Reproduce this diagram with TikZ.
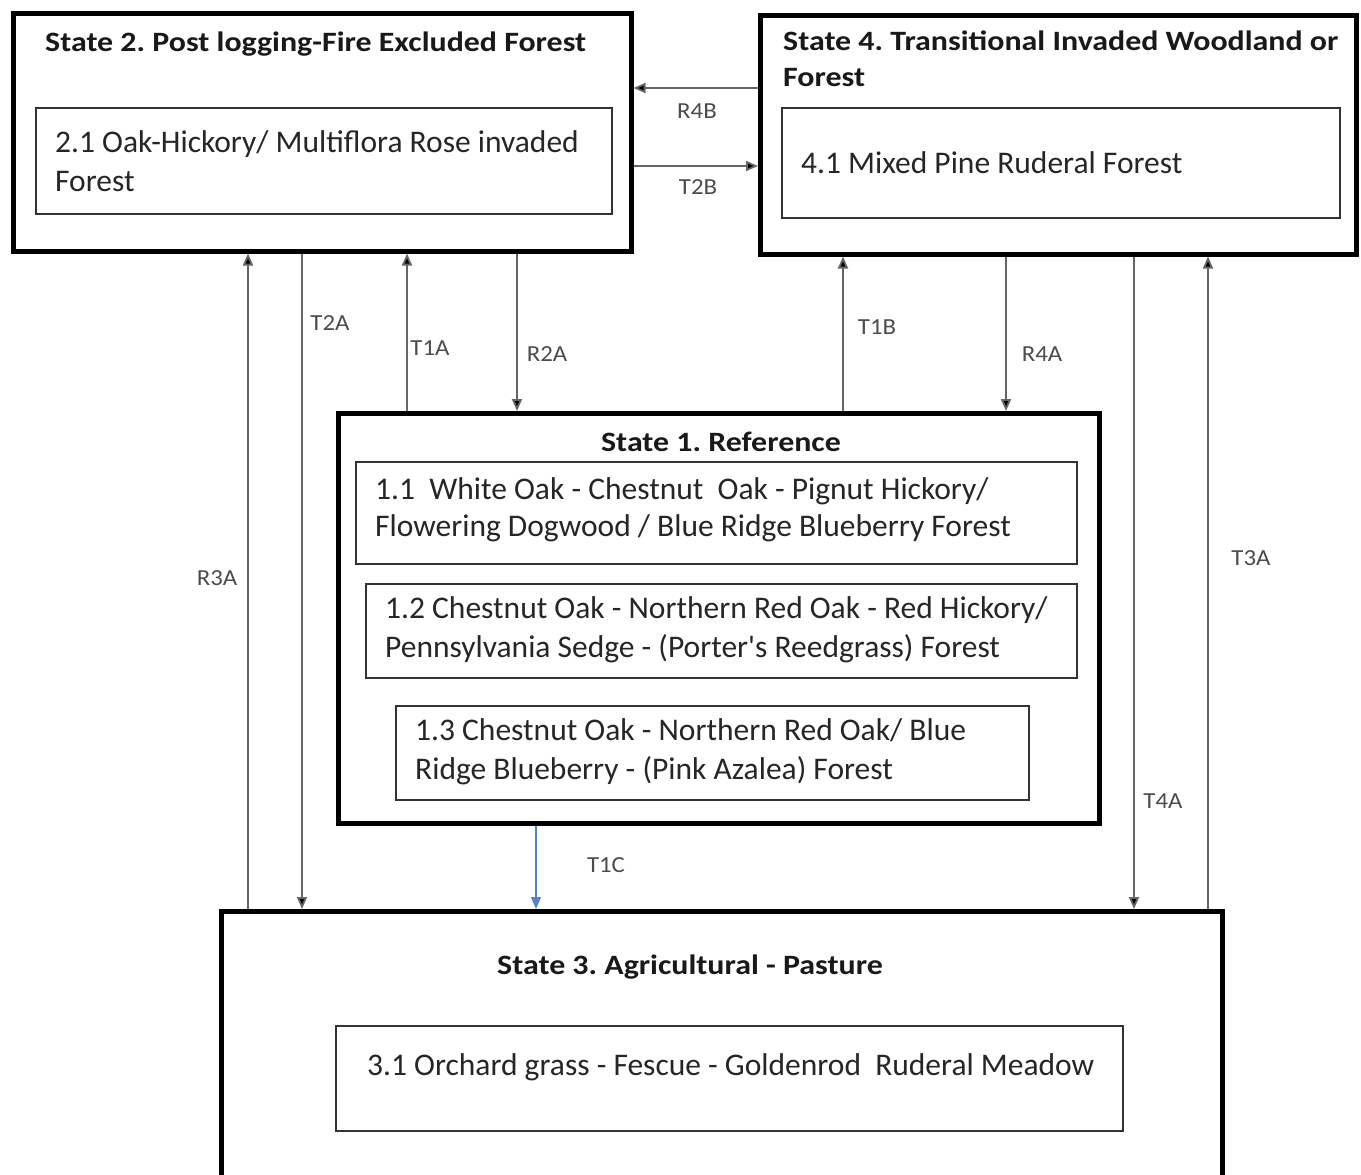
\documentclass[tikz,border=0pt]{standalone}
\usepackage{fontspec}
\setmainfont{Carlito}
\newfontfamily\titlefont[FakeStretch=1.14]{Carlito}
\newfontfamily\lblfont[FakeStretch=1.08]{Carlito}
\usetikzlibrary{arrows.meta}
\frenchspacing
\begin{document}
\begin{tikzpicture}[x=1pt,y=-1pt,
  outerbox/.style={draw=black,line width=4.5pt,anchor=north west,inner sep=0pt},
  innerbox/.style={draw=black!80,line width=2pt,anchor=north west,inner sep=0pt},
  boxtext/.style={anchor=west,inner sep=0pt,align=left,font=\fontsize{31.5}{39}\selectfont,text=black!85},
  titletext/.style={inner sep=0pt,align=left,font=\titlefont\fontsize{28}{36}\selectfont\bfseries,text=black!90},
  lbl/.style={inner sep=0pt,font=\lblfont\fontsize{23}{26}\selectfont,text=black!70},
  arr/.style={draw=black!60,line width=1.8pt,-{Triangle[length=12pt,width=10pt,fill=black]}},
  bluearr/.style={line width=1.5pt,-{Triangle[length=12pt,width=10pt]}}
]
\useasboundingbox (0,0) rectangle (1361,1175);
\clip (0,0) rectangle (1361,1175);
\fill[white] (0,0) rectangle (1361,1175);

% State 2
\node[outerbox,minimum width=618pt,minimum height=238pt] (s2) at (11,11) {};
\node[titletext,anchor=west] (s2t) at (45,44) {State 2. Post logging-Fire Excluded Forest};
\node[innerbox,minimum width=576pt,minimum height=106pt] (b21) at (35,107) {};
\node[boxtext] (t21) at (55,161) {2.1 Oak-Hickory/ Multiflora Rose invaded\\Forest};

% State 4
\node[outerbox,minimum width=596pt,minimum height=239pt] (s4) at (758,13) {};
\node[titletext,anchor=west] (s4t) at (783,59) {State 4. Transitional Invaded Woodland or\\Forest};
\node[innerbox,minimum width=558pt,minimum height=110pt] (b41) at (781,107) {};
\node[boxtext] (t41) at (801,163) {4.1 Mixed Pine Ruderal Forest};

% State 1
\node[outerbox,minimum width=761pt,minimum height=410pt] (s1) at (336,411) {};
\node[titletext,anchor=center] (s1t) at (721,442) {State 1. Reference};
\node[innerbox,minimum width=721pt,minimum height=102pt] (b11) at (355,461) {};
\node[boxtext,font=\fontsize{31.5}{37}\selectfont] (t11) at (375,510) {1.1\ \ White Oak - Chestnut\ \ Oak - Pignut Hickory/\\Flowering Dogwood\ / Blue Ridge Blueberry Forest};
\node[innerbox,minimum width=711pt,minimum height=94pt] (b12) at (365,583) {};
\node[boxtext] (t12) at (385,630) {1.2 Chestnut Oak - Northern Red Oak - Red Hickory/\\Pennsylvania Sedge - (Porter\textquotesingle s Reedgrass) Forest};
\node[innerbox,minimum width=633pt,minimum height=94pt] (b13) at (395,705) {};
\node[boxtext] (t13) at (415,752) {1.3 Chestnut Oak - Northern Red Oak/ Blue\\Ridge Blueberry - (Pink Azalea) Forest};

% State 3
\node[outerbox,minimum width=1001pt,minimum height=320pt] (s3) at (219,909) {};
\node[titletext,anchor=center] (s3t) at (690,967) {State 3. Agricultural - Pasture};
\node[innerbox,minimum width=787pt,minimum height=105pt] (b31) at (335,1025) {};
\node[boxtext] (t31) at (367,1067) {3.1 Orchard grass - Fescue - Goldenrod\ \ Ruderal Meadow};

% Connectors
\draw[arr] (s4.west |- 0,88) -- (s2.east |- 0,88);
\draw[arr] (s2.east |- 0,166) -- (s4.west |- 0,166);
\draw[arr] (s3.north -| 248,0) -- (s2.south -| 248,0);
\draw[arr] (s2.south -| 302,0) -- (s3.north -| 302,0);
\draw[arr] (s1.north -| 407,0) -- (s2.south -| 407,0);
\draw[arr] (s2.south -| 517,0) -- (s1.north -| 517,0);
\draw[arr] (s1.north -| 843,0) -- (s4.south -| 843,0);
\draw[arr] (s4.south -| 1006,0) -- (s1.north -| 1006,0);
\draw[arr] (s4.south -| 1134,0) -- (s3.north -| 1134,0);
\draw[arr] (s3.north -| 1208,0) -- (s4.south -| 1208,0);
\draw[bluearr,draw=cyan!40!blue!70!white,fill=cyan!40!blue!70!white] (s1.south -| 536,0) -- (s3.north -| 536,0);

% Labels
\node[lbl] (lR4B) at (697,111) {R4B};
\node[lbl] (lT2B) at (698,187) {T2B};
\node[lbl] (lR3A) at (217,578) {R3A};
\node[lbl] (lT2A) at (330,323) {T2A};
\node[lbl] (lT1A) at (430,348) {T1A};
\node[lbl] (lR2A) at (547,354) {R2A};
\node[lbl] (lT1B) at (877,327) {T1B};
\node[lbl] (lR4A) at (1042,354) {R4A};
\node[lbl] (lT4A) at (1163,801) {T4A};
\node[lbl] (lT3A) at (1251,558) {T3A};
\node[lbl] (lT1C) at (606,865) {T1C};
\end{tikzpicture}
\end{document}
